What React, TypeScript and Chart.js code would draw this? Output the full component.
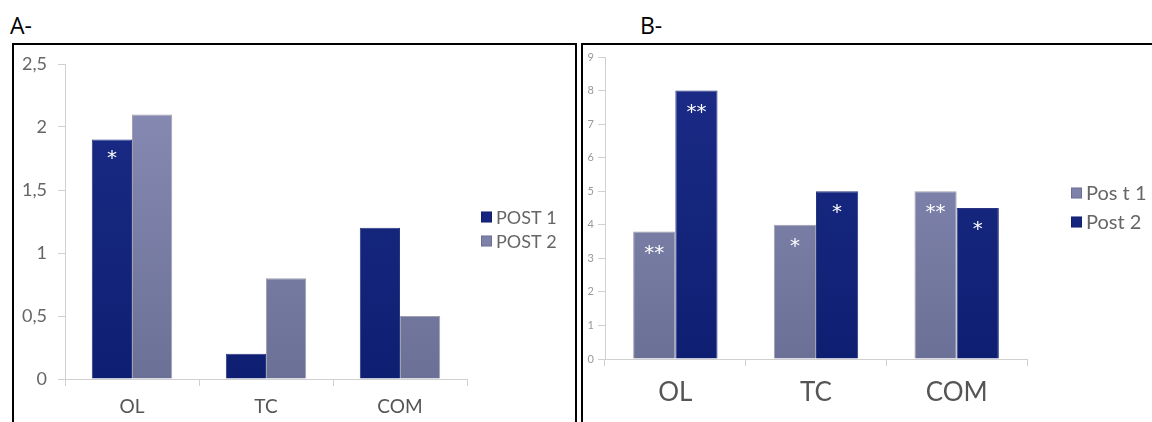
import React, { useEffect, useRef } from "react";
import { Chart, registerables } from "chart.js";
Chart.register(...registerables);

const categories = ["OL", "TC", "COM"];
const aPost1 = [1.9, 0.2, 1.2];
const aPost2 = [2.1, 0.8, 0.5];
const aStars1 = ["*", "", ""];
const aStars2 = ["", "", ""];
const bPost1 = [3.8, 4.0, 5.0];
const bPost2 = [8.0, 5.0, 4.5];
const bStars1 = ["**", "*", "**"];
const bStars2 = ["**", "*", "*"];
const aLegend = ["POST 1", "POST 2"];
const bLegend = ["Pos t 1", "Post 2"];

const FONT = "Lato, 'DejaVu Sans', sans-serif";
const NAVY_TOP = "#1c2c88";
const NAVY_BOT = "#0e1f72";
const LAV_TOP = "#8a8eb8";
const LAV_BOT = "#6b7096";

function grad(top: string, bot: string) {
  return (ctx: any) => {
    const chart = ctx.chart;
    const area = chart.chartArea;
    if (!area) return top;
    const g = chart.ctx.createLinearGradient(0, area.top, 0, area.bottom);
    g.addColorStop(0, top);
    g.addColorStop(1, bot);
    return g;
  };
}

const starPlugin = {
  id: "stars",
  afterDatasetsDraw(chart: any) {
    const ctx = chart.ctx;
    const opts = chart.options.plugins.stars || {};
    chart.data.datasets.forEach((ds: any, di: number) => {
      const meta = chart.getDatasetMeta(di);
      meta.data.forEach((el: any, i: number) => {
        const s = ds.stars ? ds.stars[i] : "";
        if (!s) return;
        ctx.save();
        ctx.fillStyle = "#ffffff";
        ctx.font = `${opts.size || 20}px 'DejaVu Sans', sans-serif`;
        ctx.textAlign = "center";
        ctx.textBaseline = "middle";
        ctx.fillText(s, el.x, el.y + (opts.offset || 22));
        ctx.restore();
      });
    });
  },
};

const legendPlugin = {
  id: "sideLegend",
  afterDraw(chart: any) {
    const o = chart.options.plugins.sideLegend;
    if (!o) return;
    const ctx = chart.ctx;
    chart.data.datasets.forEach((ds: any, i: number) => {
      const cy = o.y + i * o.step;
      ctx.save();
      ctx.fillStyle = ds.legendColor;
      ctx.fillRect(o.x, cy - o.box / 2, o.box, o.box);
      ctx.strokeStyle = "rgba(0,0,0,0.15)";
      ctx.lineWidth = 1;
      ctx.strokeRect(o.x + 0.5, cy - o.box / 2 + 0.5, o.box - 1, o.box - 1);
      ctx.fillStyle = "#666";
      ctx.font = `${o.size}px ${FONT}`;
      ctx.textAlign = "left";
      ctx.textBaseline = "middle";
      ctx.fillText(ds.label, o.textX, cy + 1);
      ctx.restore();
    });
  },
};

function useChart(ref: any, config: any) {
  useEffect(() => {
    const chart = new Chart(ref.current, config);
    return () => chart.destroy();
  }, []);
}

function ChartA() {
  const ref = useRef<HTMLCanvasElement>(null);
  useChart(ref, {
    type: "bar",
    data: {
      labels: categories,
      datasets: [
        { label: aLegend[0], data: aPost1, stars: aStars1, legendColor: "#16267f", backgroundColor: grad(NAVY_TOP, NAVY_BOT), borderColor: "#2a3580", borderWidth: 1, categoryPercentage: 0.6, barPercentage: 1 },
        { label: aLegend[1], data: aPost2, stars: aStars2, legendColor: "#7e82ab", backgroundColor: grad(LAV_TOP, LAV_BOT), borderColor: "#a0a0b0", borderWidth: 1, categoryPercentage: 0.6, barPercentage: 1 },
      ],
    },
    options: {
      animation: false,
      responsive: false,
      layout: { padding: { top: 18, right: 107, left: 0, bottom: 0 } },
      plugins: {
        tooltip: { enabled: false },
        legend: { display: false },
        stars: { size: 20, offset: 19 },
        sideLegend: { x: 467, y: 171, step: 24, box: 11, textX: 482, size: 18 },
      },
      scales: {
        x: {
          afterFit: (s: any) => { s.height = 43; s.paddingLeft = 0; s.paddingRight = 0; },
          grid: { offset: true, drawOnChartArea: false, tickLength: 7, color: "#d0d0d0" },
          border: { color: "#d0d0d0" },
          ticks: { color: "#555", padding: 9, font: { family: FONT, size: 19 } },
        },
        y: {
          min: 0, max: 2.5,
          afterFit: (s: any) => { s.width = 51; s.paddingTop = 0; s.paddingBottom = 0; },
          grid: { drawOnChartArea: false, tickLength: 7, color: "#d0d0d0" },
          border: { color: "#d0d0d0" },
          ticks: { stepSize: 0.5, color: "#666", padding: 11, font: { family: FONT, size: 18 }, callback: (v: any) => String(v).replace(".", ",") },
        },
      },
    },
    plugins: [starPlugin, legendPlugin],
  });
  return <canvas ref={ref} width={560} height={376} style={{ position: "absolute", left: 14, top: 46 }} />;
}

function ChartB() {
  const ref = useRef<HTMLCanvasElement>(null);
  useChart(ref, {
    type: "bar",
    data: {
      labels: categories,
      datasets: [
        { label: bLegend[0], data: bPost1, stars: bStars1, legendColor: "#7e82ab", backgroundColor: grad(LAV_TOP, LAV_BOT), borderColor: "#a0a0b0", borderWidth: 1, categoryPercentage: 0.6, barPercentage: 1 },
        { label: bLegend[1], data: bPost2, stars: bStars2, legendColor: "#16267f", backgroundColor: grad(NAVY_TOP, NAVY_BOT), borderColor: "#2a3580", borderWidth: 1, categoryPercentage: 0.6, barPercentage: 1 },
      ],
    },
    options: {
      animation: false,
      responsive: false,
      layout: { padding: { top: 11, right: 125, left: 0, bottom: 0 } },
      plugins: {
        tooltip: { enabled: false },
        legend: { display: false },
        stars: { size: 20, offset: 22 },
        sideLegend: { x: 488, y: 147, step: 29, box: 11, textX: 503, size: 20 },
      },
      scales: {
        x: {
          afterFit: (s: any) => { s.height = 63; s.paddingLeft = 0; s.paddingRight = 0; },
          grid: { offset: true, drawOnChartArea: false, tickLength: 7, color: "#d0d0d0" },
          border: { color: "#d0d0d0" },
          ticks: { color: "#555", padding: 11, font: { family: FONT, size: 26 } },
        },
        y: {
          min: 0, max: 9,
          afterFit: (s: any) => { s.width = 22; s.paddingTop = 0; s.paddingBottom = 0; },
          grid: { drawOnChartArea: false, tickLength: 7, color: "#d0d0d0" },
          border: { color: "#d0d0d0" },
          ticks: { stepSize: 1, color: "#999", padding: 4, font: { family: FONT, size: 11 } },
        },
      },
    },
    plugins: [starPlugin, legendPlugin],
  });
  return <canvas ref={ref} width={569} height={376} style={{ position: "absolute", left: 583, top: 46 }} />;
}

export default function App() {
  return (
    <div style={{ position: "fixed", left: 0, top: 0, width: 1152, height: 422, background: "#fff", overflow: "hidden", fontFamily: "'Open Sans', sans-serif" }}>
      <div style={{ position: "absolute", left: 10, top: 11, fontSize: 23, color: "#000", lineHeight: "28px" }}>A-</div>
      <div style={{ position: "absolute", left: 640, top: 11, fontSize: 23, color: "#000", lineHeight: "28px" }}>B-</div>
      <div style={{ position: "absolute", left: 12, top: 43, width: 565, height: 420, border: "2.5px solid #000", boxSizing: "border-box" }} />
      <div style={{ position: "absolute", left: 581, top: 43, width: 600, height: 420, border: "2.5px solid #000", boxSizing: "border-box" }} />
      <ChartA />
      <ChartB />
    </div>
  );
}
